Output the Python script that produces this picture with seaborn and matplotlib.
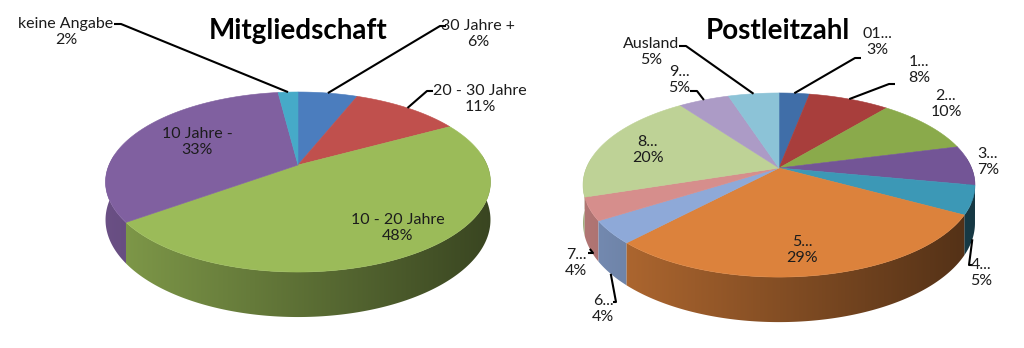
import numpy as np
import matplotlib
matplotlib.use("Agg")
import matplotlib.pyplot as plt
from matplotlib.patches import Polygon
import seaborn as sns

# ---- data -------------------------------------------------------------
member_title = "Mitgliedschaft"
member_labels = ["30 Jahre +", "20 - 30 Jahre", "10 - 20 Jahre", "10 Jahre -", "keine Angabe"]
member_values = [6, 11, 48, 33, 2]
member_colors = ["#4B7DBE", "#C0504D", "#9BBB59", "#8060A0", "#46AAC8"]

plz_title = "Postleitzahl"
plz_labels = ["01...", "1...", "2...", "3...", "4...", "5...", "6...", "7...", "8...", "9...", "Ausland"]
plz_values = [3, 8, 10, 7, 5, 29, 4, 4, 20, 5, 5]
plz_colors = ["#406EA8", "#A83E3C", "#8AAA4B", "#735596", "#3C98B6", "#DC823C",
              "#8EA9D8", "#D68E8C", "#BED296", "#AC9BC6", "#8CC3D7"]

# ---- layout -----------------------------------------------------------
# perspective disc: centre, horizontal scale, vertical scale, foreshortening, wall height
member_geom = dict(cx=298, cy=165, s=189, t=86.8, k=0.189, d=36.5, title_xy=(298, 31))
plz_geom = dict(cx=779, cy=168, s=192.6, t=88.9, k=0.185, d=36.7, title_xy=(778, 31))

# label block centre, leader stub points, leader end ("top" rim or "side" bottom)
member_layout = [
    ((478, 34), [(446, 26), (440, 26)], "top"),
    ((480, 99), [(433, 91), (427, 91)], "top"),
    ((398, 228), None, None),
    ((197, 142), None, None),
    ((66, 32), [(114, 24), (121, 24)], "top"),
]
plz_layout = [
    ((877, 42), [(861, 58), (855, 58)], "top"),
    ((919, 70), [(895, 84), (889, 84)], "top"),
    ((946, 104), None, None),
    ((988, 162), None, None),
    ((981, 273), [(972, 265), (969, 265)], "side"),
    ((802, 250), None, None),
    ((603, 309), [(613, 302), (616, 302)], "side"),
    ((576, 263), [(588, 253), (593, 253)], "side"),
    ((648, 150), None, None),
    ((679, 80), [(690, 91), (697, 91)], "top"),
    ((651, 52), [(679, 46), (686, 46)], "top"),
]

sns.set_theme(style="white")
plt.rcParams["font.family"] = ["Lato", "DejaVu Sans"]

TEXT = "#1c1c1c"


def project(g, theta, z=0.0):
    """Screen position of a rim point at angle theta (clockwise from 12 o'clock)."""
    u, v = np.sin(theta), np.cos(theta)
    w = 1.0 + g["k"] * v
    x = g["cx"] + g["s"] * u / w
    y = g["cy"] - g["t"] * v / w + z * g["d"] / w
    return x, y


def wall_factor(g, x):
    half = g["s"] / np.sqrt(1 - g["k"] ** 2)
    r = np.clip((x - g["cx"]) / half, -1, 1)
    return 0.60 - 0.23 * r


def draw_pie(ax, title, labels, values, colors, g, layout):
    vals = np.asarray(values, dtype=float)
    edges = np.concatenate([[0], np.cumsum(vals)]) / vals.sum() * 2 * np.pi

    # outer wall with a left-to-right light falloff, far pieces first
    walls = []
    for i in range(len(vals)):
        a0 = edges[i]
        a1 = edges[i + 1]
        th = np.linspace(a0, a1, 400)
        th = th[np.cos(th) < 0.12]
        if th.size < 2:
            continue
        xt, yt = project(g, th)
        xb, yb = project(g, th, 1)
        pts = list(zip(xt, yt)) + list(zip(xb[::-1], yb[::-1]))
        walls.append((np.mean(np.cos(th)), pts, colors[i]))
    walls.sort(key=lambda w: -w[0])
    for _, pts, c in walls:
        pts = np.array(pts)
        x0, x1 = pts[:, 0].min() - 1, pts[:, 0].max() + 1
        y0, y1 = pts[:, 1].min() - 1, pts[:, 1].max() + 1
        xs = np.linspace(x0, x1, 256)
        rgb = np.array(matplotlib.colors.to_rgb(c))
        img = np.clip(rgb[None, :] * wall_factor(g, xs)[:, None], 0, 1)[None, :, :]
        patch = Polygon(pts, closed=True, facecolor="none", edgecolor="none")
        ax.add_patch(patch)
        im = ax.imshow(img, extent=(x0, x1, y1, y0), aspect="auto",
                       interpolation="bilinear", zorder=1)
        im.set_clip_path(patch)

    # top faces
    for i in range(len(vals)):
        th = np.linspace(edges[i], edges[i + 1], 200)
        xs, ys = project(g, th)
        pts = [(g["cx"], g["cy"])] + list(zip(xs, ys))
        ax.add_patch(Polygon(pts, closed=True, facecolor=colors[i], edgecolor=colors[i],
                             linewidth=0.4, zorder=2))

    # labels and leader lines
    for i, (lab, val) in enumerate(zip(labels, values)):
        (tx, ty), stub, end = layout[i]
        ax.text(tx, ty, f"{lab}\n{val}%", ha="center", va="center", multialignment="center",
                fontsize=11.5, color=TEXT, linespacing=1.2, zorder=4)
        if stub is not None:
            mid = 0.5 * (edges[i] + edges[i + 1])
            ex, ey = project(g, mid, 1 if end == "side" else 0)
            xs = [p[0] for p in stub] + [ex]
            ys = [p[1] for p in stub] + [ey]
            ax.plot(xs, ys, color="black", lw=1.5, solid_capstyle="butt", zorder=3)

    ax.text(*g["title_xy"], title, ha="center", va="center", fontsize=20,
            fontweight="bold", color="black", zorder=4)


fig = plt.figure(figsize=(10.24, 3.48), dpi=100)
ax = fig.add_axes([0, 0, 1, 1])

draw_pie(ax, member_title, member_labels, member_values, member_colors, member_geom, member_layout)
draw_pie(ax, plz_title, plz_labels, plz_values, plz_colors, plz_geom, plz_layout)

ax.set_xlim(0, 1024)
ax.set_ylim(348, 0)
ax.set_aspect("auto")
ax.axis("off")

fig.savefig("out.png", dpi=100, facecolor="white")
